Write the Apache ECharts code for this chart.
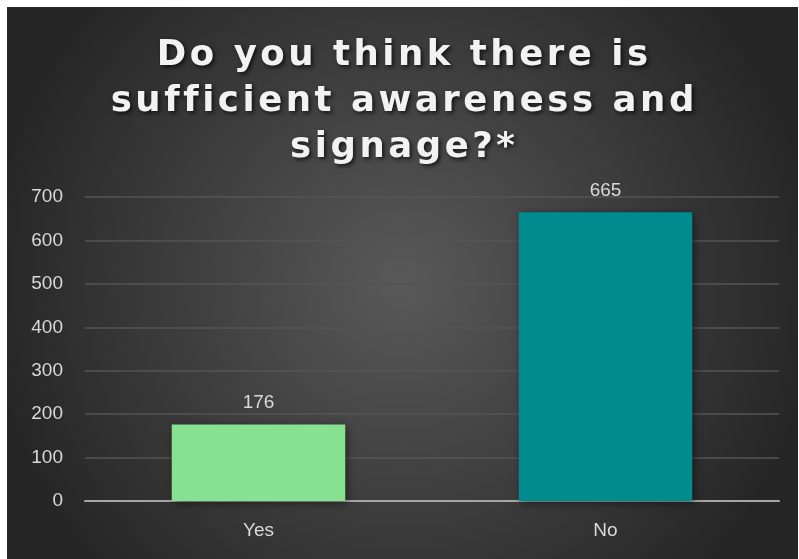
<!DOCTYPE html>
<html>
<head>
<meta charset="utf-8">
<script src="https://cdn.jsdelivr.net/npm/echarts@6/dist/echarts.min.js"></script>
<style>
html,body{margin:0;padding:0;background:#fff;width:799px;height:559px;overflow:hidden;}
#c{position:absolute;left:7px;top:7px;width:791px;height:552px;}
</style>
</head>
<body>
<div id="c"></div>
<script>
const titleLines = ["Do you think there is", "sufficient awareness and", "signage?*"];
const categories = ["Yes", "No"];
const values = [176, 665];
const barColors = ["#86e290", "#008b8f"];
const yTicks = [0, 100, 200, 300, 400, 500, 600, 700];

// emulate letter spacing with hair spaces
const spaced = titleLines.map(l => l.split('').join('\u200A')).join('\n');

const chart = echarts.init(document.getElementById('c'));
chart.setOption({
  backgroundColor: {
    type: 'radial', x: 0.5, y: 0.5, r: 0.75,
    colorStops: [
      {offset: 0, color: '#595959'},
      {offset: 1, color: '#262626'}
    ]
  },
  title: {
    text: spaced,
    left: 'center',
    top: 21,
    padding: [5, 0, 5, 16],
    textStyle: {
      fontFamily: 'DejaVu Sans',
      fontWeight: 'bold',
      fontSize: 35.5,
      lineHeight: 46,
      color: '#f2f2f2',
      textShadowColor: 'rgba(0,0,0,0.7)',
      textShadowBlur: 4,
      textShadowOffsetX: 2,
      textShadowOffsetY: 2
    }
  },
  grid: {left: 78, right: 19, top: 190, bottom: 58},
  xAxis: {
    type: 'category',
    data: categories,
    axisLine: {lineStyle: {color: '#a6a6a6', width: 2}},
    axisTick: {show: false},
    axisLabel: {color: '#d9d9d9', fontSize: 19, fontFamily: 'Liberation Sans', margin: 20}
  },
  yAxis: {
    type: 'value',
    min: yTicks[0],
    max: yTicks[yTicks.length - 1],
    interval: 100,
    axisLine: {show: false},
    axisTick: {show: false},
    axisLabel: {color: '#d9d9d9', fontSize: 19, fontFamily: 'Liberation Sans', margin: 22},
    splitLine: {lineStyle: {color: '#555555', width: 1.5}}
  },
  series: [{
    type: 'bar',
    barWidth: '50%',
    data: values.map((v, i) => ({value: v, itemStyle: {color: barColors[i]}})),
    itemStyle: {shadowColor: 'rgba(0,0,0,0.5)', shadowBlur: 8, shadowOffsetX: 2, shadowOffsetY: 2},
    label: {show: true, position: 'top', distance: 12, color: '#d9d9d9', fontSize: 19, fontFamily: 'Liberation Sans'}
  }]
});
</script>
</body>
</html>
